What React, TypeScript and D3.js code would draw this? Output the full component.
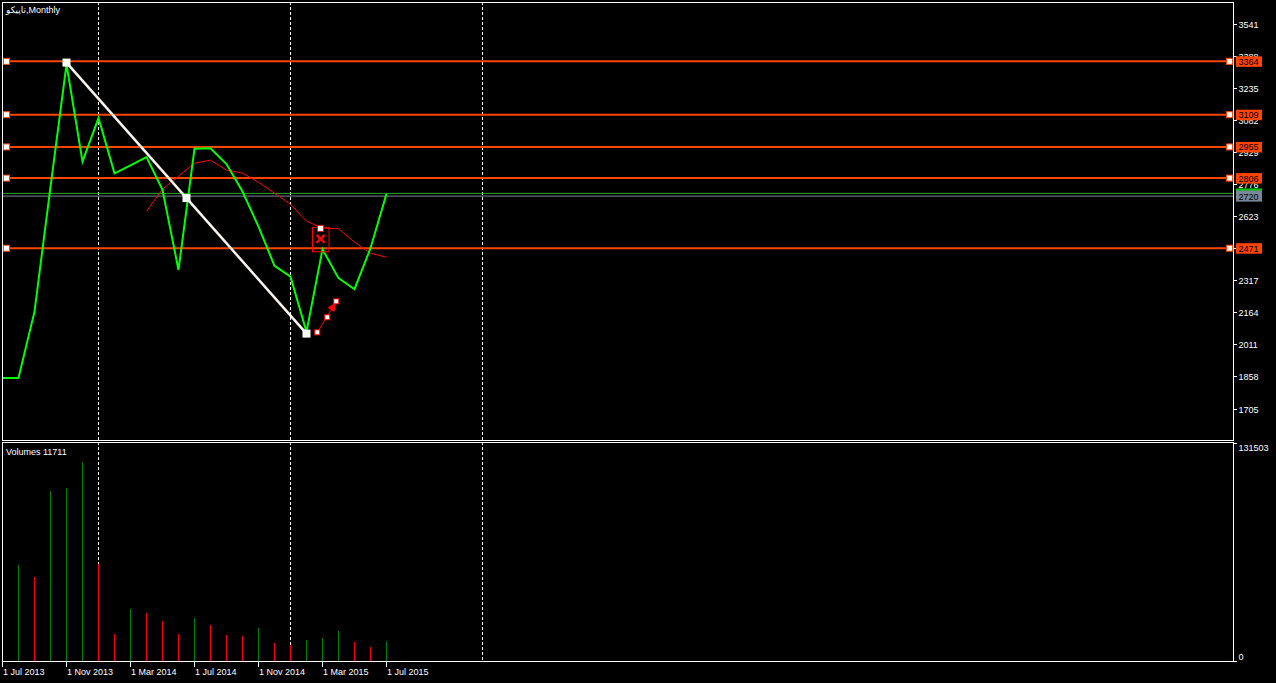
import React from "react";
import * as d3 from "d3";

// ---------- data ----------
const MONTHS = [
  "Jul 2013", "Aug 2013", "Sep 2013", "Oct 2013", "Nov 2013", "Dec 2013",
  "Jan 2014", "Feb 2014", "Mar 2014", "Apr 2014", "May 2014", "Jun 2014",
  "Jul 2014", "Aug 2014", "Sep 2014", "Oct 2014", "Nov 2014", "Dec 2014",
  "Jan 2015", "Feb 2015", "Mar 2015", "Apr 2015", "May 2015", "Jun 2015", "Jul 2015",
];
const CLOSE = [
  1851, 1851, 2168, 2764, 3350, 2885, 3093, 2829, 2867, 2906, 2750, 2367,
  2946, 2949, 2873, 2742, 2574, 2387, 2335, 2071, 2466, 2328, 2275, 2471, 2731,
];
const VOLUME = [
  40000, 58000, 50700, 102500, 104400, 120000, 58500, 16300, 31400, 29000, 24100, 16300,
  25900, 21700, 15700, 15100, 19900, 10900, 9700, 12700, 13900, 18100, 11500, 8400, 11711,
];
const MA_START = 9;
const MA = [2648, 2753, 2815, 2877, 2892, 2844, 2830, 2786, 2734, 2681, 2600, 2567, 2564, 2500, 2447, 2428];
const LEVELS = [3364, 3109, 2955, 2806, 2471];
const Y_TICKS = d3.range(1705, 3542, 153);
const X_TICK_INDEX = [0, 4, 8, 12, 16, 20, 24];
const X_TICK_LABELS = ["1 Jul 2013", "1 Nov 2013", "1 Mar 2014", "1 Jul 2014", "1 Nov 2014", "1 Mar 2015", "1 Jul 2015"];
const YEAR_SEPARATORS = [6, 18, 30];
const BID = 2720;
const ASK = 2733;
const TREND = [{ i: 4, v: 3358 }, { i: 19, v: 2063 }];
const STOP_MARK = { i: 19.875, v: 2566 };
const ARROW = [{ i: 19.675, v: 2069 }, { i: 20.3, v: 2141 }, { i: 20.86, v: 2217 }];
const VOL_MAX = 131503;
const TITLE = "تاپیکو,Monthly";
const VOL_TITLE = "Volumes 11711";

// ---------- layout ----------
const W = 1276, H = 683;
const L = 2, R = 1233;
const MT = 2, MB = 440;
const VT = 442, VB = 661;
const FONT = "'Liberation Sans', 'DejaVu Sans', Arial, sans-serif";
const ORANGE = "#ff4500";

export default function App() {
  const x = d3.scaleLinear().domain([0, 1]).range([2.5, 18.5]);
  const y = d3.scaleLinear().domain([1705, 3541]).range([408.5, 24.3]);
  const yv = d3.scaleLinear().domain([0, VOL_MAX]).range([661, 443]);

  const closeLine = d3.line<number>().x((_, i) => x(i)).y((d) => y(d))(CLOSE) || "";
  const maLine = d3.line<number>().x((_, i) => x(i + MA_START)).y((d) => y(d))(MA) || "";

  const t0 = { x: x(TREND[0].i), y: y(TREND[0].v) };
  const t1 = { x: x(TREND[1].i), y: y(TREND[1].v) };
  const tm = { x: (t0.x + t1.x) / 2, y: (t0.y + t1.y) / 2 };

  const sm = { x: x(STOP_MARK.i), y: y(STOP_MARK.v) };
  const ap = ARROW.map((p) => ({ x: x(p.i), y: y(p.v) }));
  const a0 = ap[0], a2 = ap[2];
  const dx = a2.x - a0.x, dy = a2.y - a0.y;
  const len = Math.hypot(dx, dy);
  const ux = dx / len, uy = dy / len;
  const tip = { x: a2.x - ux * 1, y: a2.y - uy * 1 };
  const base = { x: tip.x - ux * 9, y: tip.y - uy * 9 };
  const head = [
    [tip.x, tip.y],
    [base.x - uy * 4, base.y + ux * 4],
    [base.x + uy * 4, base.y - ux * 4],
  ].map((p) => p.join(",")).join(" ");

  return (
    <div style={{ position: "fixed", left: 0, top: 0, width: W, height: H, background: "#000" }}>
      <svg width={W} height={H} style={{ display: "block" }} fontFamily={FONT}>
        <rect x={0} y={0} width={W} height={H} fill="#000" />

        {/* year separators */}
        {YEAR_SEPARATORS.map((s) => (
          <g key={s}>
            <line x1={x(s)} x2={x(s)} y1={MT} y2={MB} stroke="#fff" strokeDasharray="3,2" />
            <line x1={x(s)} x2={x(s)} y1={VT} y2={VB} stroke="#fff" strokeDasharray="3,2" />
          </g>
        ))}

        {/* ask / bid lines */}
        <line x1={L} x2={R} y1={y(ASK)} y2={y(ASK)} stroke="#2aa52a" strokeWidth={1} />
        <line x1={L} x2={R} y1={y(BID)} y2={y(BID)} stroke="#778899" strokeWidth={1} />

        {/* level lines */}
        {LEVELS.map((lv) => (
          <line key={lv} x1={L} x2={R} y1={y(lv)} y2={y(lv)} stroke={ORANGE} strokeWidth={2} />
        ))}

        {/* moving average */}
        <path d={maLine} fill="none" stroke="#ff0000" strokeWidth={1} />

        {/* close line */}
        <path d={closeLine} fill="none" stroke="#00ff00" strokeWidth={2} strokeLinejoin="miter" />

        {/* trend line */}
        <line x1={t0.x} y1={t0.y} x2={t1.x} y2={t1.y} stroke="#faf5ef" strokeWidth={2.5} />
        {[t0, tm, t1].map((p, k) => (
          <rect key={k} x={p.x - 4} y={p.y - 4} width={8} height={8} fill="#fff" />
        ))}

        {/* stop mark */}
        <rect x={sm.x - 8} y={sm.y - 1} width={16.5} height={24.5} fill="none" stroke="#ff0000" strokeWidth={1} />
        <line x1={sm.x - 4} y1={sm.y + 6.5} x2={sm.x + 4} y2={sm.y + 14.5} stroke="#ff0000" strokeWidth={2.5} />
        <line x1={sm.x + 4} y1={sm.y + 6.5} x2={sm.x - 4} y2={sm.y + 14.5} stroke="#ff0000" strokeWidth={2.5} />
        <rect x={sm.x - 3} y={sm.y - 3} width={6} height={6} fill="#fff" stroke="#ff0000" strokeWidth={0.8} />

        {/* arrow */}
        <line x1={a0.x} y1={a0.y} x2={a2.x} y2={a2.y} stroke="#ff0000" strokeWidth={1} />
        <polygon points={head} fill="#ff0000" />
        {ap.map((p, k) => (
          <rect key={k} x={p.x - 2.5} y={p.y - 2.5} width={5} height={5} fill="#fff" stroke="#ff0000" strokeWidth={1} />
        ))}

        {/* level end squares */}
        {LEVELS.map((lv) => (
          <g key={lv}>
            <rect x={3.5} y={y(lv) - 3} width={6} height={6} fill="#fff" stroke={ORANGE} strokeWidth={1} />
            <rect x={1226.5} y={y(lv) - 3} width={6} height={6} fill="#fff" stroke={ORANGE} strokeWidth={1} />
          </g>
        ))}

        {/* volume bars */}
        {VOLUME.map((v, i) => {
          const up = i === 0 || v > VOLUME[i - 1];
          return (
            <line key={i} x1={x(i)} x2={x(i)} y1={yv(v)} y2={yv(0)} stroke={up ? "#008000" : "#ff0000"} strokeWidth={1} />
          );
        })}

        {/* panel borders */}
        <rect x={L + 0.5} y={MT + 0.5} width={R - L} height={MB - MT} fill="none" stroke="#fff" strokeWidth={1} />
        <rect x={L + 0.5} y={VT + 0.5} width={R - L} height={VB - VT} fill="none" stroke="#fff" strokeWidth={1} />

        {/* y ticks main */}
        {Y_TICKS.map((t) => (
          <g key={t}>
            <line x1={R} x2={R + 4} y1={Math.round(y(t)) + 0.5} y2={Math.round(y(t)) + 0.5} stroke="#fff" />
            <text x={1238.5} y={y(t) + 4} fill="#fff" fontSize={9}>{t}</text>
          </g>
        ))}

        {/* level labels */}
        {LEVELS.map((lv) => (
          <g key={lv}>
            <rect x={1236} y={y(lv) - 5} width={26} height={10.5} fill={ORANGE} />
            <text x={1238.5} y={y(lv) + 3.5} fill="#000" fontSize={9}>{lv}</text>
          </g>
        ))}

        {/* ask / bid labels */}
        <rect x={1236} y={y(ASK) - 5} width={26} height={10.5} fill="#00c000" />
        <rect x={1236} y={y(BID) - 5.5} width={26} height={11} fill="#778899" />
        <text x={1238.5} y={y(BID) + 3.5} fill="#000" fontSize={9}>{BID}</text>

        {/* volume axis */}
        <line x1={R} x2={R + 4} y1={443.5} y2={443.5} stroke="#fff" />
        <text x={1238.5} y={yv(VOL_MAX) + 8} fill="#fff" fontSize={9}>{VOL_MAX}</text>
        <line x1={R} x2={R + 4} y1={661.5} y2={661.5} stroke="#fff" />
        <text x={1238.5} y={yv(0) - 1} fill="#fff" fontSize={9}>0</text>

        {/* x ticks */}
        {X_TICK_INDEX.map((ti, k) => (
          <g key={ti}>
            <line x1={x(ti)} x2={x(ti)} y1={VB + 1} y2={VB + 6} stroke="#fff" />
            <text x={x(ti) + 0.5} y={675} fill="#fff" fontSize={9}>{X_TICK_LABELS[k]}</text>
          </g>
        ))}

        {/* titles */}
        <text x={6} y={13} fill="#fff" fontSize={9}>{TITLE}</text>
        <text x={6} y={455} fill="#fff" fontSize={9}>{VOL_TITLE}</text>
      </svg>
    </div>
  );
}
